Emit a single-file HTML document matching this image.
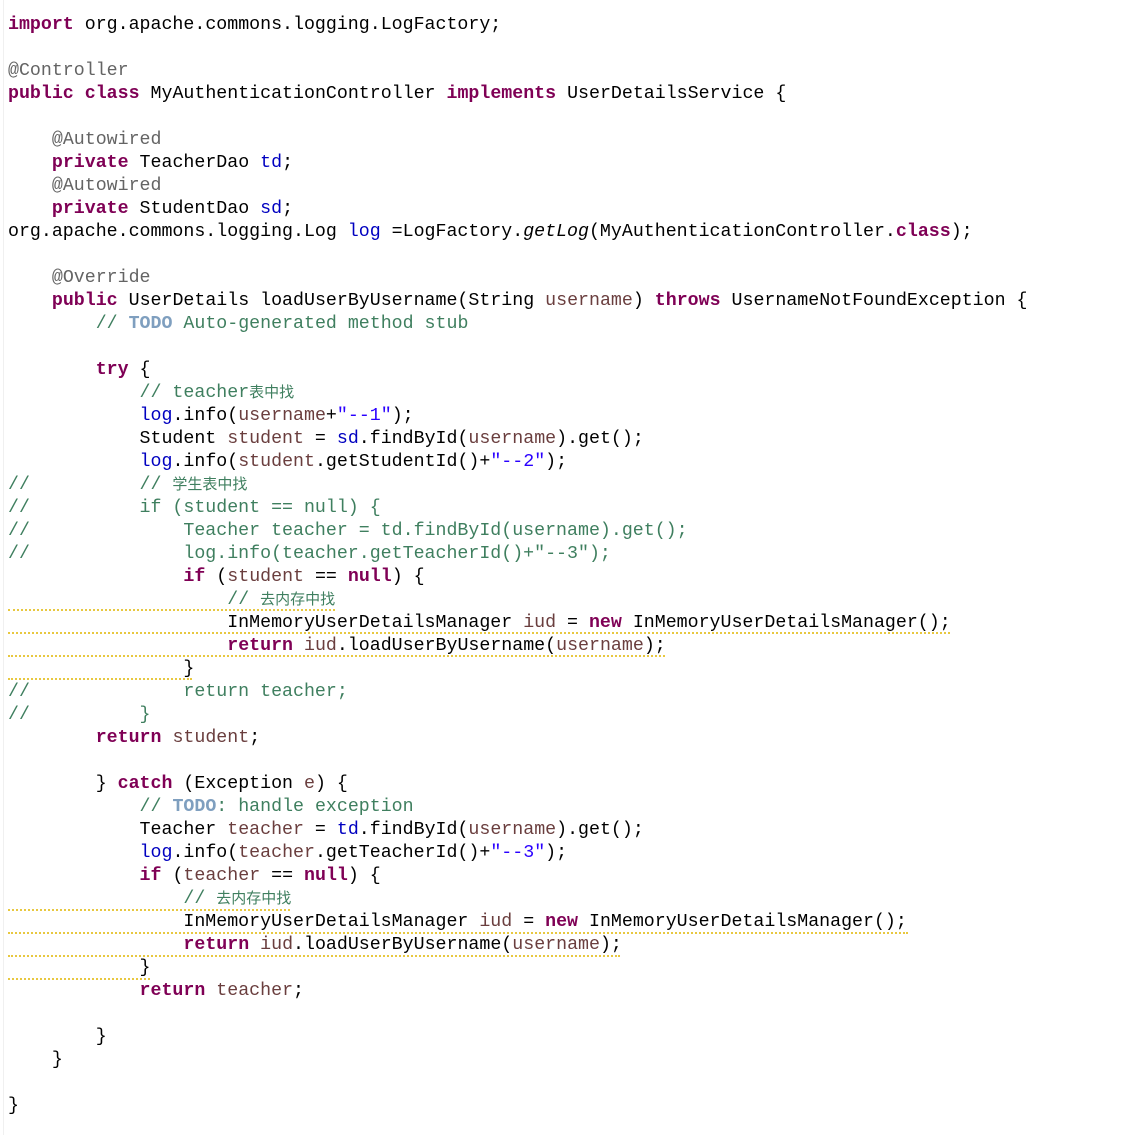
<!DOCTYPE html>
<html><head><meta charset="utf-8"><style>
html,body{margin:0;padding:0;background:#fff;width:1136px;height:1135px;overflow:hidden;position:relative}
pre{position:absolute;left:8px;top:14px;margin:0;font-family:"Liberation Mono","Noto Sans CJK SC",monospace;font-size:18.28px;line-height:23px;color:#000}
.k{color:#7F0055;font-weight:bold}
.a{color:#646464}
.f{color:#0000C0}
.s{color:#2A00FF}
.c{color:#3F7F5F}
.t{color:#7F9FBF;font-weight:bold}
.v{color:#6A3E3E}
.i{font-style:italic}
.cj{font-size:15px}
.sq{position:absolute;left:8px;height:0;border-top:2px dotted #e8c840}
.gut{position:absolute;left:3px;top:0;width:1px;height:1135px;background:#f0f0f0}
</style></head><body>
<div class="gut"></div>
<div class="sq" style="top:609px;width:327px"></div>
<div class="sq" style="top:632px;width:942px"></div>
<div class="sq" style="top:655px;width:657px"></div>
<div class="sq" style="top:678px;width:184px"></div>
<div class="sq" style="top:909px;width:282px"></div>
<div class="sq" style="top:932px;width:900px"></div>
<div class="sq" style="top:955px;width:612px"></div>
<div class="sq" style="top:978px;width:142px"></div>
<pre><span class="k">import</span> org.apache.commons.logging.LogFactory;

<span class="a">@Controller</span>
<span class="k">public</span> <span class="k">class</span> MyAuthenticationController <span class="k">implements</span> UserDetailsService {

    <span class="a">@Autowired</span>
    <span class="k">private</span> TeacherDao <span class="f">td</span>;
    <span class="a">@Autowired</span>
    <span class="k">private</span> StudentDao <span class="f">sd</span>;
org.apache.commons.logging.Log <span class="f">log</span> =LogFactory.<span class="i">getLog</span>(MyAuthenticationController.<span class="k">class</span>);

    <span class="a">@Override</span>
    <span class="k">public</span> UserDetails loadUserByUsername(String <span class="v">username</span>) <span class="k">throws</span> UsernameNotFoundException {
        <span class="c">// </span><span class="t">TODO</span><span class="c"> Auto-generated method stub</span>

        <span class="k">try</span> {
            <span class="c">// teacher<span class="cj">表中找</span></span>
            <span class="f">log</span>.info(<span class="v">username</span>+<span class="s">"--1"</span>);
            Student <span class="v">student</span> = <span class="f">sd</span>.findById(<span class="v">username</span>).get();
            <span class="f">log</span>.info(<span class="v">student</span>.getStudentId()+<span class="s">"--2"</span>);
<span class="c">//          // <span class="cj">学生表中找</span></span>
<span class="c">//          if (student == null) {</span>
<span class="c">//              Teacher teacher = td.findById(username).get();</span>
<span class="c">//              log.info(teacher.getTeacherId()+"--3");</span>
                <span class="k">if</span> (<span class="v">student</span> == <span class="k">null</span>) {
                    <span class="c">// <span class="cj">去内存中找</span></span>
                    InMemoryUserDetailsManager <span class="v">iud</span> = <span class="k">new</span> InMemoryUserDetailsManager();
                    <span class="k">return</span> <span class="v">iud</span>.loadUserByUsername(<span class="v">username</span>);
                }
<span class="c">//              return teacher;</span>
<span class="c">//          }</span>
        <span class="k">return</span> <span class="v">student</span>;

        } <span class="k">catch</span> (Exception <span class="v">e</span>) {
            <span class="c">// </span><span class="t">TODO</span><span class="c">: handle exception</span>
            Teacher <span class="v">teacher</span> = <span class="f">td</span>.findById(<span class="v">username</span>).get();
            <span class="f">log</span>.info(<span class="v">teacher</span>.getTeacherId()+<span class="s">"--3"</span>);
            <span class="k">if</span> (<span class="v">teacher</span> == <span class="k">null</span>) {
                <span class="c">// <span class="cj">去内存中找</span></span>
                InMemoryUserDetailsManager <span class="v">iud</span> = <span class="k">new</span> InMemoryUserDetailsManager();
                <span class="k">return</span> <span class="v">iud</span>.loadUserByUsername(<span class="v">username</span>);
            }
            <span class="k">return</span> <span class="v">teacher</span>;

        }
    }

}</pre>
</body></html>
